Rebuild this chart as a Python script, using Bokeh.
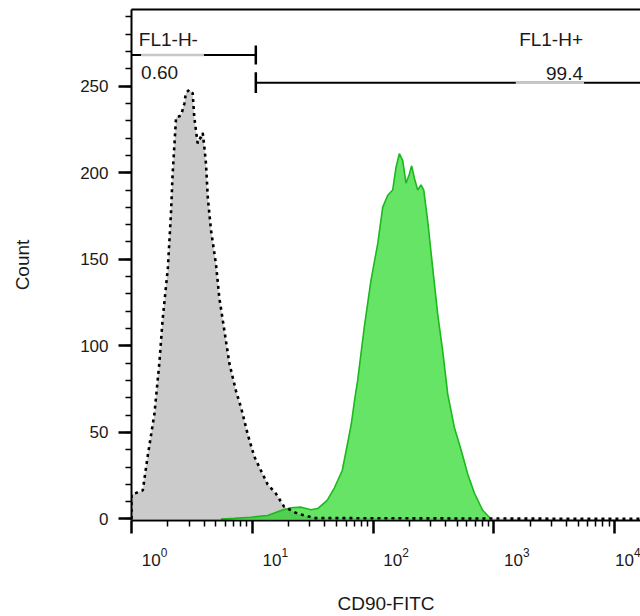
import numpy as np
from bokeh.plotting import figure
from bokeh.models import (LinearAxis, LogAxis, FixedTicker, SingleIntervalTicker,
                          Range1d, LogTickFormatter)
from bokeh.core.properties import value
from bokeh.embed import file_html
from bokeh.resources import INLINE

# ---- data -------------------------------------------------------------
# isotype control histogram (grey, dotted outline)
ctrl_fl = [1.0, 1.0, 1.24, 1.36, 1.55, 1.70, 1.81, 2.0, 2.12, 2.19, 2.34, 2.57,
           2.74, 2.82, 3.01, 3.21, 3.31, 3.53, 3.77, 3.89, 4.01, 4.14, 4.28,
           4.55, 5.01, 5.33, 5.87, 6.46, 7.33, 8.1, 9.16, 10.4, 11.8, 13.4,
           15.7, 18.4, 23.8, 32.7, 20000]
ctrl_count = [0, 14, 16.5, 36, 61, 90, 115, 145, 176, 199, 232, 233,
              240, 246, 248, 246, 232, 217, 221, 223, 215, 205, 186,
              167, 147, 128, 109, 90, 74, 64, 49, 36, 28, 20,
              14.6, 7, 3, 0.5, 0]

# CD90-FITC stained histogram (green)
cd90_fl = [5.5, 7.08, 9.77, 13.4, 17.3, 20.9, 25.4, 30.6, 34.8, 41.7, 47.9,
           55.6, 61.7, 66.1, 70.8, 74.6, 84.7, 96.2, 109.4, 120.2, 132.4,
           145.5, 154.9, 165.2, 176.2, 187.5, 199.5, 208.9, 219.8, 234.4,
           249.5, 263, 283.8, 311.9, 343.6, 377.6, 415.9, 471, 535.8, 608.1,
           690.2, 809, 948.4]
cd90_count = [0, 0.3, 1, 2, 4.9, 6.5, 6.8, 5.3, 6.0, 10.7, 18,
              28, 44, 55, 70, 80, 111, 138, 159, 180, 187,
              190, 203, 211, 207, 194, 199, 204, 197, 190,
              193, 190, 172, 145, 118, 97, 72, 53, 40, 26,
              15, 5, 0]

# gates
gate_names = ["FL1-H-", "FL1-H+"]
gate_pct = ["0.60", "99.4"]
gate_lo = [1.0, 10.7]
gate_hi = [10.7, 20000]
gate_level = [268, 252]

x_ticks = [1, 10, 100, 1000, 10000]
y_interval = 50

FONT = "Liberation Sans"
TXT = "#1a1a1a"
X0, X1 = 1.0, 16400
LABEL_SHIFT = 10 ** (23 / 120.75)   # decade labels sit ~23 px right of ticks

p = figure(width=640, height=616, x_axis_type="log",
           x_range=Range1d(X0, X1), y_range=Range1d(-0.9, 294.3),
           output_backend="svg", toolbar_location=None,
           min_border_left=131, min_border_right=0, min_border_top=9,
           min_border_bottom=96)
p.extra_x_ranges = {"lbl": Range1d(X0 / LABEL_SHIFT, X1 / LABEL_SHIFT)}
p.outline_line_color = None
p.grid.visible = False
p.background_fill_color = "white"
p.border_fill_color = "white"

# grey control histogram
p.varea(x=ctrl_fl, y1=0, y2=ctrl_count, fill_color="#cbcbcb")
# green stained histogram (semi-transparent over grey)
p.varea(x=cd90_fl, y1=0, y2=cd90_count, fill_color="#00d200", fill_alpha=0.6)
p.line(x=cd90_fl, y=cd90_count, line_color="#1cb81c", line_width=1.6)
p.line(x=ctrl_fl, y=ctrl_count, line_color="black", line_width=2.6,
       line_dash="3 4")

# gates
p.segment(x0=gate_lo, x1=gate_hi, y0=gate_level, y1=gate_level,
          line_color="black", line_width=2)
p.segment(x0=[gate_hi[0], gate_lo[1]], x1=[gate_hi[0], gate_lo[1]],
          y0=[gate_level[0] - 5.5, gate_level[1] - 6],
          y1=[gate_level[0] + 5.5, gate_level[1] + 6],
          line_color="black", line_width=2.5)
# light segment under each gate name
p.segment(x0=[1.2, 1520], x1=[3.98, 5590], y0=gate_level, y1=gate_level,
          line_color="#c8c8c8", line_width=2.5)

p.text(x=[1.15], y=[277], text=[gate_names[0]], text_align="left",
       text_baseline="middle", text_font=value(FONT), text_font_size="19px",
       text_color=TXT)
p.text(x=[1.2], y=[258], text=[gate_pct[0]], text_align="left",
       text_baseline="middle", text_font=value(FONT), text_font_size="19px",
       text_color=TXT)
p.text(x=[5480], y=[277], text=[gate_names[1]], text_align="right",
       text_baseline="middle", text_font=value(FONT), text_font_size="19px",
       text_color=TXT)
p.text(x=[5480], y=[257.5], text=[gate_pct[1]], text_align="right",
       text_baseline="middle", text_font=value(FONT), text_font_size="19px",
       text_color=TXT)

# axes
minor_x = [m * 10 ** k for k in range(0, 5) for m in range(2, 10)]
xa = p.xaxis[0]
xa.ticker = FixedTicker(ticks=x_ticks, minor_ticks=minor_x)
xa.major_label_overrides = {t: "" for t in x_ticks}
xa.major_label_standoff = 0
ya = p.yaxis[0]
ya.ticker = SingleIntervalTicker(interval=y_interval, num_minor_ticks=5)

for ax in (xa, ya):
    ax.axis_line_width = 2
    ax.axis_line_color = "black"
    ax.major_tick_out = 13
    ax.major_tick_in = 0
    ax.minor_tick_out = 6
    ax.minor_tick_in = 0
    ax.major_tick_line_width = 2.5
    ax.minor_tick_line_width = 1.5
    ax.major_label_text_font = FONT
    ax.major_label_text_font_size = "17px"
    ax.major_label_text_color = TXT

ya.axis_label = "Count"
ya.axis_label_text_font = FONT
ya.axis_label_text_font_size = "19px"
ya.axis_label_text_font_style = "normal"
ya.axis_label_text_color = TXT
ya.major_label_standoff = 10
ya.axis_label_standoff = 44

# decade labels, set a little to the right of their ticks, plus the axis title
xl = LogAxis(x_range_name="lbl",
             ticker=FixedTicker(ticks=x_ticks, minor_ticks=[]),
             formatter=LogTickFormatter(),
             axis_line_color=None, major_tick_out=0, major_tick_in=0,
             minor_tick_out=0, minor_tick_in=0, major_tick_line_color=None,
             major_label_text_font=FONT, major_label_text_font_size="17px",
             major_label_text_color=TXT, major_label_standoff=14,
             axis_label="CD90-FITC", axis_label_text_font=FONT,
             axis_label_text_font_size="19px",
             axis_label_text_font_style="normal",
             axis_label_text_color=TXT, axis_label_standoff=24)
p.add_layout(xl, "below")

top = LinearAxis(ticker=FixedTicker(ticks=[], minor_ticks=[]),
                 axis_line_width=2, axis_line_color="black",
                 major_tick_out=0, minor_tick_out=0, major_tick_in=0,
                 minor_tick_in=0)
p.add_layout(top, "above")

open("out.html", "w").write(file_html(p, INLINE))
